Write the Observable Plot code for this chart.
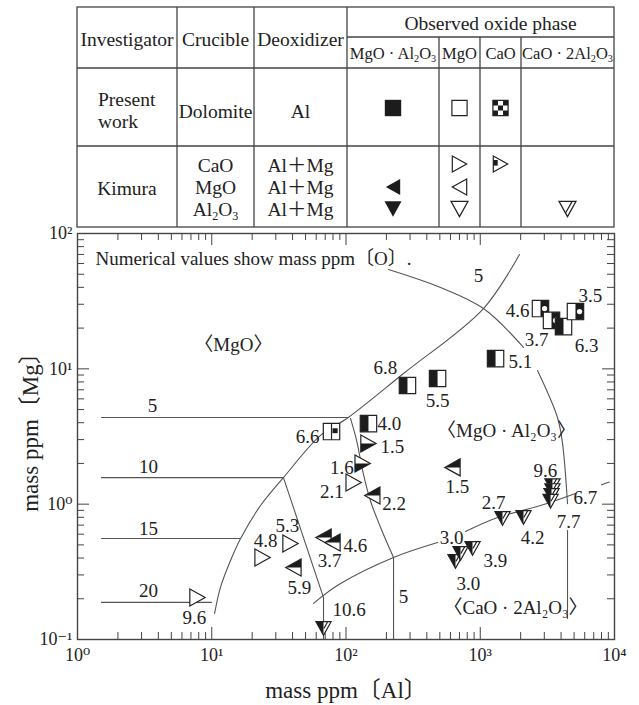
<!DOCTYPE html>
<html><head><meta charset="utf-8">
<script src="https://cdn.jsdelivr.net/npm/d3@7"></script>
<script src="https://cdn.jsdelivr.net/npm/@observablehq/plot@0.6"></script>
<style>
html,body{margin:0;padding:0;background:#fff;}
#fig{position:relative;width:639px;height:705px;font-family:"Liberation Serif","DejaVu Serif","Noto Sans CJK JP",serif;color:#222;}
svg{display:block;}
</style></head><body><div id="fig"></div>
<script>
// ---------------- data ----------------
// table
const tableHeaders = ["Investigator", "Crucible", "Deoxidizer"];
const phaseGroupHeader = "Observed oxide phase";
const phaseHeaders = ["MgO · Al_2O_3", "MgO", "CaO", "CaO · 2Al_2O_3"];
const crucibleKimura = ["CaO", "MgO", "Al_2O_3"];
const deoxKimura = ["Al＋Mg", "Al＋Mg", "Al＋Mg"];

// present work (dolomite crucible, Al deoxidation)
const pwAl = [78, 147, 287, 481, 1300, 2810, 3395, 4170, 5120];
const pwMg = [3.44, 3.94, 7.53, 8.48, 11.9, 27.9, 22.8, 20.5, 26.5];
const pwO = ["6.6", "4.0", "6.8", "5.5", "5.1", "4.6", "3.7", "6.3", "3.5"];
const pwPhase = ["MgO+CaO", "Sp+MgO", "Sp+MgO", "Sp+MgO", "Sp+MgO", "Sp+MgO+CaO", "Sp+MgO+CaO", "Sp+MgO", "Sp+MgO+CaO"];

// Kimura, CaO crucible
const kCaOAl = [147, 133, 114, 23.9, 38.6, 7.83];
const kCaOMg = [2.81, 2.0, 1.445, 0.404, 0.512, 0.204];
const kCaOO = ["1.5", "1.6", "2.1", "4.8", "5.3", "9.6"];
const kCaOPhase = ["MgO+CaO", "MgO+CaO", "MgO", "MgO", "MgO", "MgO"];
// Kimura, MgO crucible
const kMgOAl = [157, 621, 68, 79.3, 40.6];
const kMgOMg = [1.16, 1.87, 0.567, 0.521, 0.340];
const kMgOO = ["2.2", "1.5", "3.7", "4.6", "5.9"];
// Kimura, Al2O3 crucible
const kAlAl = [68, 1465, 2100, 3450, 3450, 3395, 3340, 654, 713, 876];
const kAlMg = [0.1205, 0.783, 0.797, 1.37, 1.26, 1.16, 1.05, 0.377, 0.432, 0.470];
const kAlO = ["10.6", "2.7", "4.2", "9.6", "", "6.7", "7.7", "3.0", "3.0", "3.9"];

// phase boundary MgO / MgO·Al2O3
const bMgSpAl = [10.5, 11.6, 13.8, 16.4, 23.1, 34.2, 64.6, 104, 268, 1057, 1960];
const bMgSpMg = [0.156, 0.242, 0.383, 0.557, 0.977, 1.57, 3.22, 4.37, 9.24, 27.9, 70];
// phase boundary MgO·Al2O3 / CaO·2Al2O3 (three visible pieces)
const bSpCaAl1 = [57.3, 91, 226, 481], bSpCaMg1 = [0.185, 0.259, 0.404, 0.521];
const bSpCaAl2 = [776, 1345, 2810, 5120], bSpCaMg2 = [0.628, 0.797, 0.977, 1.20];
const bSpCaAl3 = [8000, 9140], bSpCaMg3 = [1.39, 1.46];
// iso-oxygen lines in the MgO field (horizontal)
const isoLevels = ["5", "10", "15", "20"];
const isoMg = [4.37, 1.57, 0.557, 0.188];
const isoAlStart = 1.51;
const isoAlEnd = [104, 34.2, 16.4, 10.1];
// 5 ppm line through the spinel field, then vertical in the CA2 field
const iso5SpAl = [108, 120, 133, 152, 181, 226], iso5SpMg = [4.30, 2.95, 1.77, 1.06, 0.673, 0.404];
const iso5VAl = [226, 226], iso5VMg = [0.404, 0.1];
// 10 ppm line through the spinel field, then vertical
const iso10SpAl = [34.2, 68], iso10SpMg = [1.57, 0.204];
const iso10VAl = [68, 68], iso10VMg = [0.204, 0.1];
// 5 ppm line on the high-Al side (two arcs and a vertical)
const iso5HiAl1 = [207, 506, 1057, 2100], iso5HiMg1 = [54.2, 39.9, 27.9, 14.4];
const iso5HiAl2 = [2670, 3760, 4100, 4467], iso5HiMg2 = [9.72, 4.37, 2.81, 1.01];
const iso5HiAl3 = [4467, 4467], iso5HiMg3 = [0.639, 0.143];
// line labels
const lineLabText = ["5", "10", "15", "20", "5", "5"];
const lineLabAl = [3.62, 3.38, 3.38, 3.38, 970, 268];
const lineLabMg = [5.36, 1.87, 0.661, 0.230, 48.9, 0.208];
// field names
const regionNames = ["〈MgO〉", "〈MgO · Al₂O₃〉", "〈CaO · 2Al₂O₃〉"];
const regionAl = [14.5, 1570, 1832];
const regionMg = [14.9, 3.50, 0.170];
const note = "Numerical values show mass ppm〔O〕.";
// axis ticks
const xMajor = [1, 10, 100, 1000, 10000];
const yMajor = [0.1, 1, 10, 100];

// ---------------- layout (label offsets, px) ----------------
const pwLab = [[-12,5,"end"],[9,0,"start"],[-22,-18,"middle"],[0,22,"middle"],[13,3,"start"],[-11,2,"end"],[-15,20,"middle"],[23,19,"middle"],[15,-16,"middle"]];
const kCaOLab = [[12,3,"start"],[-9,4,"end"],[-10,9,"end"],[3,-17,"middle"],[-3,-18,"middle"],[-3,20,"middle"]];
const kMgOLab = [[10,8,"start"],[5,20,"middle"],[6,23,"middle"],[11,3,"start"],[6,20,"middle"]];
const kAlLab = [[9,-19,"start"],[-9,-16,"middle"],[9,20,"middle"],[-7,-15,"middle"],[0,0,"middle"],[22,2,"start"],[18,21,"middle"],[13,22,"middle"],[-9,-16,"middle"],[11,12,"start"]];

// ---------------- symbols ----------------
const BLACK = "#1c1c1c", INK = "#222", LINE = "#555", FRAME = "#444";
const mk = f => ({draw(c, size) { f(c, Math.sqrt(size / Math.PI)); }});
const poly = (c, pts) => { c.moveTo(pts[0][0], pts[0][1]); for (let i = 1; i < pts.length; i++) c.lineTo(pts[i][0], pts[i][1]); c.closePath(); };
const S = {
  sq: mk((c, r) => poly(c, [[-r,-r],[r,-r],[r,r],[-r,r]])),
  sqL: mk((c, r) => poly(c, [[-r,-r],[0,-r],[0,r],[-r,r]])),
  sqR: mk((c, r) => poly(c, [[0,-r],[r,-r],[r,r],[0,r]])),
  sqMid: mk((c, r) => { c.moveTo(0,-r); c.lineTo(0,r); }),
  sqDot: mk((c, r) => { const cx = r*0.5, rr = r*0.32; c.moveTo(cx+rr, 0); c.arc(cx, 0, rr, 0, 2*Math.PI); }),
  sqSmall: mk((c, r) => poly(c, [[r*0.12,-r*0.4],[r*0.75,-r*0.4],[r*0.75,r*0.2],[r*0.12,r*0.2]])),
  checker: mk((c, r) => { const s = 2*r/3; for (const [i,j] of [[0,0],[2,0],[1,1],[0,2],[2,2]]) poly(c, [[-r+i*s,-r+j*s],[-r+(i+1)*s,-r+j*s],[-r+(i+1)*s,-r+(j+1)*s],[-r+i*s,-r+(j+1)*s]]); }),
  tr: mk((c, r) => poly(c, [[-0.9*r,-r],[0.9*r,0],[-0.9*r,r]])),
  trB: mk((c, r) => poly(c, [[-0.9*r,0],[0.9*r,0],[-0.9*r,r]])),
  trCaO: mk((c, r) => poly(c, [[-0.9*r,-0.5*r],[-0.35*r,-0.5*r],[-0.35*r,0.2*r],[-0.9*r,0.2*r]])),
  tl: mk((c, r) => poly(c, [[0.9*r,-r],[-0.9*r,0],[0.9*r,r]])),
  tlT: mk((c, r) => poly(c, [[0.9*r,-r],[-0.9*r,0],[0.9*r,0]])),
  td: mk((c, r) => poly(c, [[-r,-0.9*r],[r,-0.9*r],[0,0.9*r]])),
  tdL: mk((c, r) => poly(c, [[-r,-0.9*r],[0,-0.9*r],[0,0.9*r]])),
  tdHatchR: mk((c, r) => { c.moveTo(0.55*r,-0.9*r); c.lineTo(0.05*r,0); }),
  tdHatch: mk((c, r) => { c.moveTo(0.55*r,-0.9*r); c.lineTo(-0.25*r,0.5*r); })
};
// glyph = list of [symbol, fill, stroke]
const G = {
  pwSp: [[S.sq, BLACK, null]],
  pwMgO: [[S.sq, "#fff", INK]],
  pwCaO: [[S.sq, "#fff", null], [S.checker, BLACK, null], [S.sq, "none", INK]],
  pwMix: [[S.sq, "#fff", null], [S.sqL, BLACK, null], [S.sq, "none", INK]],
  pwMixCaO: [[S.sq, "#fff", null], [S.sqR, BLACK, null], [S.sqDot, "#fff", null], [S.sq, "none", INK]],
  pwMgOCaO: [[S.sq, "#fff", null], [S.sqSmall, BLACK, null], [S.sqMid, "none", INK], [S.sq, "none", INK]],
  trOpen: [[S.tr, "#fff", INK]],
  trCaO: [[S.tr, "#fff", null], [S.trCaO, BLACK, null], [S.tr, "none", INK]],
  trMix: [[S.tr, "#fff", null], [S.trB, BLACK, null], [S.tr, "none", INK]],
  tlSp: [[S.tl, BLACK, null]],
  tlOpen: [[S.tl, "#fff", INK]],
  tlMix: [[S.tl, "#fff", null], [S.tlT, BLACK, null], [S.tl, "none", INK]],
  tdSp: [[S.td, BLACK, null]],
  tdOpen: [[S.td, "#fff", INK]],
  tdCA2: [[S.td, "#fff", null], [S.tdHatch, "none", INK], [S.td, "none", INK]],
  tdMix: [[S.td, "#fff", null], [S.tdL, BLACK, null], [S.tdHatchR, "none", INK], [S.td, "none", INK]]
};
const pwGlyph = {"Sp+MgO": "pwMix", "Sp+MgO+CaO": "pwMixCaO", "MgO+CaO": "pwMgOCaO"};
const kCaOGlyph = {"MgO": "trOpen", "MgO+CaO": "trMix"};

// ---------------- legend table ----------------
const FONT = '"Liberation Serif","DejaVu Serif","Noto Sans CJK JP",serif';
const fig = d3.select("#fig");
const leg = fig.append("svg").attr("width", 639).attr("height", 227)
  .style("overflow", "visible").style("font-family", FONT).attr("fill", INK);
const line = (x1, y1, x2, y2) => leg.append("line").attr("x1", x1).attr("y1", y1).attr("x2", x2).attr("y2", y2)
  .attr("stroke", FRAME).attr("stroke-width", 1.3);
const colX = [77, 177, 254, 347, 439, 480, 521, 614];
leg.append("rect").attr("x", 77).attr("y", 7).attr("width", 537).attr("height", 220)
  .attr("fill", "none").attr("stroke", FRAME).attr("stroke-width", 1.3);
[177, 254, 347].forEach(x => line(x, 7, x, 227));
[439, 480, 521].forEach(x => line(x, 37, x, 227));
line(347, 37, 614, 37); line(77, 68, 614, 68); line(77, 146, 614, 146);
function rich(x, y, s, size, anchor = "middle") {
  const t = leg.append("text").attr("x", x).attr("y", y).attr("text-anchor", anchor)
    .attr("font-size", size).attr("dy", "0.35em");
  let shifted = false;
  for (const p of s.split(/(_\d)/)) {
    if (!p) continue;
    if (p[0] === "_") { t.append("tspan").attr("font-size", size * 0.62).attr("dy", size * 0.22).text(p[1]); shifted = true; }
    else { const ts = t.append("tspan").text(p); if (shifted) { ts.attr("dy", -size * 0.22); shifted = false; } }
  }
}
const mid = (a, b) => (colX[a] + colX[b]) / 2;
tableHeaders.forEach((h, i) => rich(mid(i, i + 1), 39, h, 19.5));
rich(mid(3, 7) + 10, 23, phaseGroupHeader, 19.5);
phaseHeaders.forEach((h, i) => rich(mid(3 + i, 4 + i), 53, h, 16.5));
rich(98, 99, "Present", 19.5, "start");
rich(98, 121, "work", 19.5, "start");
rich(mid(1, 2), 111, "Dolomite", 19.5);
rich(mid(2, 3), 111, "Al", 19.5);
rich(mid(0, 1), 188, "Kimura", 19.5);
const kRows = [165, 187, 209];
crucibleKimura.forEach((c, i) => rich(mid(1, 2), kRows[i], c, 19.5));
deoxKimura.forEach((c, i) => rich(mid(2, 3), kRows[i], c, 19.5));
function legGlyph(x, y, key, r) {
  for (const [sym, fill, stroke] of G[key]) {
    const p = d3.path(); sym.draw(p, r * r * Math.PI);
    leg.append("path").attr("transform", `translate(${x},${y})`).attr("d", p.toString())
      .attr("fill", fill || "none").attr("stroke", stroke || "none").attr("stroke-width", 1.2);
  }
}
legGlyph(mid(3, 4), 108, "pwSp", 8.2);
legGlyph(mid(4, 5), 108, "pwMgO", 7.6);
legGlyph(mid(5, 6), 108, "pwCaO", 7.6);
legGlyph(mid(4, 5), 164, "trOpen", 8);
legGlyph(mid(5, 6), 164, "trCaO", 8);
legGlyph(mid(3, 4), 187, "tlSp", 8);
legGlyph(mid(4, 5), 187, "tlOpen", 8);
legGlyph(mid(3, 4), 209, "tdSp", 8.5);
legGlyph(mid(4, 5), 209, "tdOpen", 8.5);
legGlyph(mid(6, 7), 209, "tdCA2", 8.5);

// ---------------- chart ----------------
const sup = {"-": "⁻", "0": "⁰", "1": "¹", "2": "²", "3": "³", "4": "⁴"};
const fmt = d => "10" + String(Math.round(Math.log10(d))).split("").map(c => sup[c]).join("");
const minor = (lo, hi) => { const a = []; for (let e = lo; e < hi; e++) for (let k = 2; k < 10; k++) a.push(+(k * Math.pow(10, e)).toPrecision(3)); return a; };
const xMinor = minor(0, 4), yMinor = minor(-1, 2);
const FW = 537, FH = 406, TMIN = 7, TMAJ = 12;

const seg = (al, mg, id) => al.map((a, i) => ({al: a, mg: mg[i], id}));
const smooth = [
  ...seg(bMgSpAl, bMgSpMg, "A"),
  ...seg(bSpCaAl1, bSpCaMg1, "E1"), ...seg(bSpCaAl2, bSpCaMg2, "E2"), ...seg(bSpCaAl3, bSpCaMg3, "E3"),
  ...seg(iso5SpAl, iso5SpMg, "D"),
  ...seg(iso5HiAl1, iso5HiMg1, "B1"), ...seg(iso5HiAl2, iso5HiMg2, "B2")
];
const straight = [
  ...seg(iso10SpAl, iso10SpMg, "C"), ...seg(iso10VAl, iso10VMg, "CV"),
  ...seg(iso5VAl, iso5VMg, "DV"), ...seg(iso5HiAl3, iso5HiMg3, "BV")
];

const pts = [];
pwAl.forEach((a, i) => pts.push({al: a, mg: pwMg[i], o: pwO[i], g: pwGlyph[pwPhase[i]], r: 8.2, lab: pwLab[i]}));
kCaOAl.forEach((a, i) => pts.push({al: a, mg: kCaOMg[i], o: kCaOO[i], g: kCaOGlyph[kCaOPhase[i]], r: 8.5, lab: kCaOLab[i]}));
kMgOAl.forEach((a, i) => pts.push({al: a, mg: kMgOMg[i], o: kMgOO[i], g: "tlMix", r: 8.5, lab: kMgOLab[i]}));
kAlAl.forEach((a, i) => pts.push({al: a, mg: kAlMg[i], o: kAlO[i], g: "tdMix", r: 7.6, lab: kAlLab[i]}));

const glyphMarks = pts.flatMap(p => G[p.g].map(([sym, fill, stroke]) =>
  Plot.dot([p], {x: "al", y: "mg", r: p.r, symbol: sym, fill: fill || "none", stroke: stroke || "none", strokeWidth: 1.2})));
const labelMarks = pts.filter(p => p.o).map(p =>
  Plot.text([p], {x: "al", y: "mg", text: "o", dx: p.lab[0], dy: p.lab[1], textAnchor: p.lab[2], fontSize: 19}));

const chart = Plot.plot({
  width: 639, height: 478,
  marginTop: 6, marginBottom: 66, marginLeft: 77, marginRight: 25,
  style: {fontFamily: FONT, fontSize: "19px", color: INK, background: "transparent", overflow: "visible"},
  x: {type: "log", domain: [1, 1e4], axis: null},
  y: {type: "log", domain: [0.1, 100], axis: null},
  marks: [
    Plot.ruleY(isoMg.map((m, i) => i), {y: i => isoMg[i], x1: () => isoAlStart, x2: i => isoAlEnd[i], stroke: LINE, strokeWidth: 1.1}),
    Plot.line(smooth, {x: "al", y: "mg", z: "id", curve: "catmull-rom", stroke: LINE, strokeWidth: 1.1}),
    Plot.line(straight, {x: "al", y: "mg", z: "id", stroke: LINE, strokeWidth: 1.1}),
    Plot.text(lineLabText.map((t, i) => i), {x: i => lineLabAl[i], y: i => lineLabMg[i], text: i => lineLabText[i], fontSize: 19}),
    Plot.text(regionNames.map((t, i) => i), {x: i => regionAl[i], y: i => regionMg[i], text: i => regionNames[i], fontSize: 19}),
    Plot.text([note], {frameAnchor: "top-left", dx: 18, dy: 25, lineAnchor: "middle", textAnchor: "start", fontSize: 19}),
    ...glyphMarks,
    ...labelMarks,
    Plot.tickX(xMinor, {x: d => d, insetTop: FH - TMIN, stroke: FRAME}),
    Plot.tickX(xMinor, {x: d => d, insetBottom: FH - TMIN, stroke: FRAME}),
    Plot.tickX(xMajor, {x: d => d, insetTop: FH - TMAJ, stroke: FRAME}),
    Plot.tickX(xMajor, {x: d => d, insetBottom: FH - TMAJ, stroke: FRAME}),
    Plot.tickY(yMinor, {y: d => d, insetRight: FW - TMIN, stroke: FRAME}),
    Plot.tickY(yMinor, {y: d => d, insetLeft: FW - TMIN, stroke: FRAME}),
    Plot.tickY(yMajor, {y: d => d, insetRight: FW - TMAJ, stroke: FRAME}),
    Plot.tickY(yMajor, {y: d => d, insetLeft: FW - TMAJ, stroke: FRAME}),
    Plot.frame({stroke: FRAME, strokeWidth: 1.4}),
    Plot.axisX(xMajor, {tickSize: 0, tickPadding: 9, tickFormat: fmt, fontSize: 18, label: null}),
    Plot.axisY(yMajor, {tickSize: 0, tickPadding: 5, tickFormat: fmt, fontSize: 18, label: null}),
    Plot.text(["mass ppm〔Al〕"], {frameAnchor: "bottom", dy: 51, lineAnchor: "middle", textAnchor: "middle", fontSize: 23}),
    Plot.text(["mass ppm〔Mg〕"], {frameAnchor: "left", dx: -47, dy: -10, rotate: -90, lineAnchor: "middle", textAnchor: "middle", fontSize: 23})
  ]
});
fig.node().appendChild(chart);
</script></body></html>
